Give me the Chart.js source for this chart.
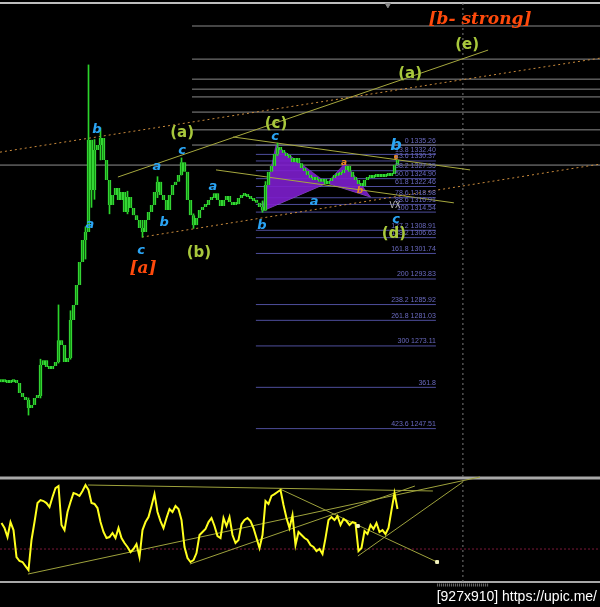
<!DOCTYPE html>
<html><head><meta charset="utf-8">
<script src="https://cdn.jsdelivr.net/npm/chart.js@4.4.1/dist/chart.umd.min.js"></script>
<style>
html,body{margin:0;padding:0;background:#000;width:600px;height:607px;overflow:hidden;position:relative;}
#c1{position:absolute;left:0;top:0;}
#c2{position:absolute;left:0;top:470px;}
#wm{position:absolute;right:3px;top:588px;color:#fff;font:14px "Liberation Sans",sans-serif;white-space:nowrap;}
</style></head><body>
<canvas id="c1" width="600" height="470"></canvas>
<canvas id="c2" width="600" height="120"></canvas>
<div id="wm">[927x910] https://upic.me/</div>
<script>
// ---------- DATA ----------
// closing prices, one per bar (bar index = position)
const closes = [1261.9,1262.2,1261.6,1261.9,1262.6,1261.6,1258.5,1257.3,1256.4,1253.9,
1254.8,1257.0,1257.6,1267.2,1268.7,1266.6,1266.0,1266.9,1268.1,1274.9,
1273.4,1268.1,1269.4,1281.1,1285.8,1292.0,1299.1,1305.9,1308.4,1336.9,
1321.4,1333.8,1335.3,1337.5,1330.7,1324.5,1316.7,1319.8,1322.0,1318.3,
1320.8,1314.6,1319.2,1315.8,1313.6,1312.1,1309.6,1308.4,1312.1,1314.6,
1316.7,1320.8,1323.9,1319.8,1318.3,1315.2,1319.8,1322.9,1323.9,1326.0,
1330.0,1327.0,1318.3,1313.6,1310.5,1312.7,1315.2,1316.1,1316.7,1318.3,
1318.9,1320.4,1318.3,1316.4,1318.3,1319.5,1317.7,1316.7,1317.0,1318.9,
1319.5,1320.1,1319.2,1318.6,1318.0,1317.4,1316.1,1315.0,1322.9,1327.0,
1328.8,1332.5,1334.4,1333.8,1332.8,1331.9,1331.3,1330.0,1331.3,1329.7,
1328.2,1327.3,1326.0,1325.1,1324.5,1324.8,1323.9,1324.8,1323.2,1324.2,
1325.1,1325.7,1326.0,1326.6,1327.6,1328.8,1327.0,1325.4,1324.5,1323.2,
1322.6,1324.5,1325.1,1325.1,1325.7,1325.4,1325.7,1325.4,1326.0,1325.7,
1326.3,1329.1,1330.7];
// notable wicks: [bar, low, high]
const wicks = [[9,1251.7,1257.0],[13,1257.0,1269.0],[19,1267.8,1285.8],[23,1269.0,1284.0],
[28,1300.0,1310.0],[29,1316.7,1360.1],[30,1316.0,1331.0],[31,1318.5,1337.0],[33,1330.7,1340.6],
[36,1314.0,1322.0],[42,1314.0,1321.0],[47,1306.8,1312.0],[52,1319.0,1325.5],[60,1326.0,1331.3],
[64,1309.5,1314.0],[87,1314.5,1318.0],[88,1315.0,1324.0],[92,1332.0,1335.9]];
// oscillator, one value per bar
const osc = [55.6,50.7,41.8,56.6,48.7,22.1,18.2,17.2,13.2,9.3,
38.9,56.6,75.3,78.3,77.3,75.3,71.4,81.3,90.1,92.1,
53.7,48.7,66.5,76.3,85.2,84.2,82.3,87.2,93.1,88.2,
75.3,74.4,70.4,56.6,46.8,40.8,41.8,45.8,40.8,50.7,
40.8,35.9,32.0,27.0,30.0,34.9,22.1,48.7,56.6,61.5,
72.4,84.2,66.5,57.6,50.7,60.6,69.4,66.5,72.4,69.4,
58.6,32.0,21.1,17.2,19.1,26.0,43.8,46.8,49.7,56.6,
60.6,52.7,42.8,40.8,60.6,52.7,61.5,43.8,35.9,38.9,
54.6,58.6,60.6,57.6,50.7,40.8,31.0,43.8,77.3,74.4,
82.3,84.2,86.2,88.2,73.4,60.6,50.7,63.5,33.9,46.8,
43.8,40.8,38.9,33.9,32.0,28.0,30.0,25.1,40.8,58.6,
61.5,58.6,62.5,53.7,59.6,57.6,53.7,56.6,55.6,28.0,
31.0,47.7,44.8,53.7,49.7,55.6,46.8,48.7,44.8,50.7,
68.4,85.2,69.4];
// Fibonacci levels
const fibPercents = ['0','13.8','23.6','38.2','50.0','61.8','78.6','88.6','100','127.2','138.2','161.8','200','238.2','261.8','300','361.8','423.6'];
const fibPrices = [1335.26,1332.40,1330.37,1327.35,1324.90,1322.46,1318.98,1316.91,1314.54,1308.91,1306.63,1301.74,1293.83,1285.92,1281.03,1273.11,1260.29,1247.51];
const fibShowPrice = [true,true,true,true,true,true,true,true,true,true,true,true,true,true,true,true,false,true];
const fibRange = [84.8, 144.8];
// grey horizontal levels (right side) and the full-width level
const greyLevels = [1372.15,1361.9,1355.7,1352.6,1350.2,1345.5,1340.0,1335.3];
const greyRange = [63.5, 199.5];
const currentLevel = 1329.1;
const topLevel = 1379.3;
// trend lines [[bar,price],[bar,price]]
const orangeChannel = [[[-0.5,1333.1],[199.5,1362.2]], [[46.8,1306.8],[199.5,1329.4]]];
const oliveLines = [[[38.8,1325.4],[162.2,1364.7]], [[77.2,1337.8],[156.2,1327.6]], [[71.5,1327.6],[150.8,1317.4]]];
// harmonic pattern points X A B C D  [bar, price]
const harmonic = {X:[86.8,1314.8], A:[91.5,1335.26], B:[108.5,1323.5], C:[114.5,1329.7], D:[123,1319.2]};
const vLineBar = 153.8;
// oscillator trend lines [[bar,value],[bar,value]]
const oscLines = [[[28.8,93.1],[143.8,87.2]], [[62.8,15.2],[137.8,92.1]], [[8.8,5.3],[159.5,101.0]],
                  [[92.8,89.2],[145.2,17.2]], [[118.8,23.1],[153.8,96.1]]];
const oscMarkers = [[118.8,52.7],[145.2,17.2]];
const oscLevel = 30;
// labels [text, bar, price]
const cyanLabels = [['b',31.8,1340.0],['a',29.5,1310.8],['c',46.5,1302.5],['a',51.8,1328.5],['b',54.2,1311.2],
 ['c',60.2,1333.5],['a',70.5,1322.3],['b',86.8,1310.5],['c',91.2,1337.8],['a',104.2,1317.7],['c',131.5,1312.1]];
const cyanBig = [['b',131.5,1335.0]];
const oliveLabels = [['(a)',60.2,1339.0],['(b)',65.8,1301.9],['(c)',91.5,1341.8],['(d)',130.8,1307.8],['(a)',136.2,1357.3],['(e)',155.2,1366.3]];
const redLabels = [['[a]',47.2,1297.2],['[b- strong]',159.5,1374.0]];
const orangeSmall = [['a',114.2,1330.0],['b',119.5,1321.1]];
const greyTiny = [['VX',131.2,1316.4]];

// ---------- HELPERS ----------
function seg(p, color, width, dash, order){
  return {type:'line', data:[{x:p[0][0],y:p[0][1]},{x:p[1][0],y:p[1][1]}], borderColor:color, borderWidth:width,
    borderDash:dash||[], pointRadius:0, fill:false, tension:0, order:order===undefined?5:order, clip:false};
}
function textPlugin(groups){
  return {id:'txt'+Math.random().toString(36).slice(2), afterDatasetsDraw(chart){
    const ctx=chart.ctx, xs=chart.scales.x, ys=chart.scales.y;
    for(const g of groups){
      ctx.save(); ctx.font=g.font; ctx.fillStyle=g.color; ctx.textAlign=g.align||'center'; ctx.textBaseline=g.baseline||'middle';
      for(const t of g.items){ ctx.fillText(t[0], xs.getPixelForValue(t[1])+(g.dx||0), ys.getPixelForValue(t[2])+(g.dy||0)); }
      ctx.restore();
    }
  }};
}
const baseOpts = (ymin,ymax)=>({responsive:false, animation:false, events:[], layout:{padding:0, autoPadding:false},
  plugins:{legend:{display:false}, tooltip:{enabled:false}},
  scales:{x:{type:'linear', min:-0.5, max:199.5, display:false, offset:false},
          y:{type:'linear', min:ymin, max:ymax, display:false}}});

// ---------- MAIN CHART ----------
const ds1 = [];
ds1.push(seg([[-0.5,topLevel],[199.5,topLevel]], '#bdbdbd', 2, [], 9));
ds1.push(seg([[-0.5,currentLevel],[199.5,currentLevel]], '#8f8f8f', 1, [], 9));
greyLevels.forEach(p=>ds1.push(seg([[greyRange[0],p],[greyRange[1],p]], '#8a8a8a', 1, [], 9)));
fibPrices.forEach(p=>ds1.push(seg([[fibRange[0],p],[fibRange[1],p]], '#4e4e9c', 1, [], 9)));
const H=harmonic;
ds1.push({type:'line', data:[H.X,H.A,H.B].map(p=>({x:p[0],y:p[1]})), borderColor:'rgba(150,60,230,0.6)', borderWidth:1, pointRadius:0, fill:'+1', backgroundColor:'rgba(125,30,205,0.9)', order:8, tension:0});
ds1.push({type:'line', data:[H.X,H.B].map(p=>({x:p[0],y:p[1]})), borderColor:'rgba(170,120,230,0.7)', borderWidth:1, pointRadius:0, fill:false, order:8, tension:0});
ds1.push({type:'line', data:[H.B,H.C,H.D].map(p=>({x:p[0],y:p[1]})), borderColor:'rgba(150,60,230,0.6)', borderWidth:1, pointRadius:0, fill:'+1', backgroundColor:'rgba(125,30,205,0.9)', order:8, tension:0});
ds1.push({type:'line', data:[H.B,H.D].map(p=>({x:p[0],y:p[1]})), borderColor:'rgba(170,120,230,0.7)', borderWidth:1, pointRadius:0, fill:false, order:8, tension:0});
orangeChannel.forEach(l=>ds1.push(seg(l, '#c98a3c', 1, [2,3], 4)));
oliveLines.forEach(l=>ds1.push(seg(l, '#a6a83e', 1, [], 4)));
ds1.push(seg([[vLineBar,1234.7],[vLineBar,1380.2]], '#7a7a7a', 1, [2,3], 4));
ds1.push({type:'bar', data:wicks.map(w=>({x:w[0], y:[w[1],w[2]]})), backgroundColor:'#2bd42b', barThickness:1, grouped:false, order:1});
ds1.push({type:'bar', data:closes.map((c,i)=>({x:i, y:[i?closes[i-1]:c, c]})), backgroundColor:'#139a13', borderColor:'#46f046', borderWidth:{left:1,right:1,top:0,bottom:0}, borderSkipped:false, barThickness:3, minBarLength:3, grouped:false, order:0});
ds1.push({type:'line', data:[{x:128.8,y:1378.7}], showLine:false, pointStyle:'triangle', rotation:180, pointRadius:3, backgroundColor:'#8c8c8c', borderColor:'#8c8c8c', order:0});
ds1.push({type:'line', data:[{x:131.5,y:1331.6}], showLine:false, pointStyle:'rect', pointRadius:2, backgroundColor:'#f08a1c', borderColor:'#f08a1c', order:0});

const fibTextItems = fibPrices.map((p,i)=>[fibPercents[i]+(fibShowPrice[i]?' '+p.toFixed(2):''), fibRange[1], p]);
new Chart(document.getElementById('c1'), {type:'bar', data:{datasets:ds1}, options:baseOpts(1234.7,1380.2),
  plugins:[textPlugin([
    {items:fibTextItems, font:'7px "Liberation Sans Narrow","Liberation Sans",sans-serif', color:'#6a6ac0', align:'right', baseline:'bottom', dy:-1},
    {items:greyTiny, font:'8px "DejaVu Sans",sans-serif', color:'#bbbbbb'},
    {items:orangeSmall, font:'bold italic 9px "DejaVu Sans",sans-serif', color:'#f08a1c'},
    {items:cyanLabels, font:'bold italic 13px "DejaVu Sans",sans-serif', color:'#2aa4f4'},
    {items:cyanBig, font:'bold italic 16px "DejaVu Sans",sans-serif', color:'#2aa4f4'},
    {items:oliveLabels, font:'bold 15px "DejaVu Sans",sans-serif', color:'#a8c83c'},
    {items:redLabels, font:'bold italic 17px "DejaVu Serif",serif', color:'#ff4a0c'}
  ])]});

// ---------- OSCILLATOR ----------
const ds2 = [];
ds2.push(seg([[-0.5,100],[199.5,100]], '#a8a8a8', 3, [], 9));
ds2.push(seg([[-0.5,-2.5],[199.5,-2.5]], '#a8a8a8', 2, [], 9));
ds2.push(seg([[145.2,-5.5],[162.2,-5.5]], '#6e6e6e', 3, [1,1], 9));
ds2.push(seg([[-0.5,oscLevel],[199.5,oscLevel]], '#7a1838', 1, [2,2], 8));
ds2.push(seg([[vLineBar,-2.5],[vLineBar,107.9]], '#7a7a7a', 1, [2,3], 8));
oscLines.forEach(l=>ds2.push(seg(l, '#9ea23c', 1, [], 3)));
ds2.push({type:'line', data:osc.map((v,i)=>({x:i,y:v})), borderColor:'#ffff1e', borderWidth:2, pointRadius:0, fill:false, tension:0, order:2});
ds2.push({type:'line', data:oscMarkers.map(m=>({x:m[0],y:m[1]})), showLine:false, pointStyle:'rect', pointRadius:2, backgroundColor:'#f4f4c0', borderColor:'#f4f4c0', order:1});
new Chart(document.getElementById('c2'), {type:'line', data:{datasets:ds2}, options:baseOpts(-10.4,107.9)});
</script></body></html>
